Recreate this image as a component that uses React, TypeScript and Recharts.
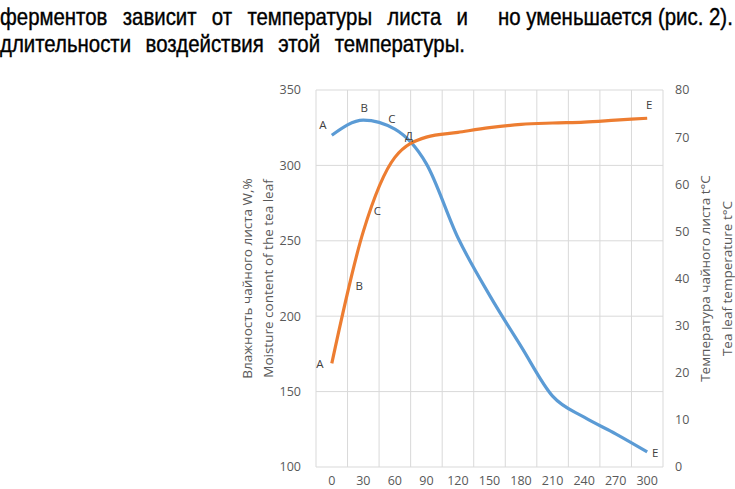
import React from 'react'
import { LineChart, Line, XAxis, YAxis, CartesianGrid, LabelList } from 'recharts'

const minutes = [0, 30, 60, 90, 120, 150, 180, 210, 240, 270, 300]
const moisture = [320, 330, 324, 301, 252, 214, 180, 147, 133, 122, 110]
const temperature = [22, 50, 65.7, 70, 71, 72, 72.7, 73, 73.2, 73.6, 74]

const moistureTicks = [100, 150, 200, 250, 300, 350]
const temperatureTicks = [0, 10, 20, 30, 40, 50, 60, 70, 80]

// point letters on each curve (index of the point they sit next to)
const moistureTags = [
  { index: 0, text: 'А' },
  { index: 1, text: 'В' },
  { index: 2, text: 'С' },
  { index: 2, text: 'Д' },
  { index: 10, text: 'Е' },
]
const temperatureTags = [
  { index: 0, text: 'А' },
  { index: 1, text: 'В' },
  { index: 1, text: 'С' },
  { index: 10, text: 'Е' },
]

// label nudges, px
const moistureNudge = [[-9, -11], [1, -13], [-3, -11], [14, 6], [8, 1]]
const temperatureNudge = [[-12, 0], [-4, 54], [14, -21], [2, -14]]

const data = minutes.map((m, i) => ({
  t: m,
  moisture: moisture[i],
  temperature: temperature[i],
}))

const GREY = '#595959'
const FONT = '"Open Sans", "Noto Sans", sans-serif'

function tagRenderer(tags: { index: number; text: string }[], nudge: number[][]) {
  return (p: any) => {
    const hits = tags.map((tg, k) => ({ ...tg, k })).filter(tg => tg.index === p.index)
    if (!hits.length) return null
    return (
      <g>
        {hits.map(h => (
          <text
            key={h.k}
            x={p.x + nudge[h.k][0]}
            y={p.y + nudge[h.k][1]}
            textAnchor="middle"
            dominantBaseline="central"
            fontSize={11.5}
            fontFamily={FONT}
            fill="#404040"
          >
            {h.text}
          </text>
        ))}
      </g>
    )
  }
}

function AxisTitle({ viewBox, lines, xs }: any) {
  const cy = viewBox.y + viewBox.height / 2
  return (
    <g>
      {lines.map((l: string, i: number) => (
        <text
          key={i}
          x={viewBox.x + xs[i]}
          y={cy}
          transform={`rotate(-90 ${viewBox.x + xs[i]} ${cy})`}
          textAnchor="middle"
          dominantBaseline="central"
          fontSize={13.5}
          fontFamily={FONT}
          fill={GREY}
        >
          {l}
        </text>
      ))}
    </g>
  )
}

const SQUEEZE = 0.85

function TextLine({ text, left, top, width }: { text: string; left: number; top: number; width?: number }) {
  return (
    <div
      style={{
        position: 'absolute',
        left,
        top,
        width: width ? width / SQUEEZE : undefined,
        fontFamily: '"Liberation Sans", Arial, sans-serif',
        fontSize: 24,
        lineHeight: '27px',
        color: '#000',
        WebkitTextStroke: '0.4px #000',
        whiteSpace: 'nowrap',
        transform: `scaleX(${SQUEEZE})`,
        transformOrigin: 'left top',
        textAlign: width ? 'justify' : 'left',
        textAlignLast: width ? 'justify' : 'auto',
      }}
    >
      {text}
    </div>
  )
}

export default function App() {
  return (
    <div style={{ position: 'absolute', left: 0, top: 0, width: 735, height: 489, background: '#fff', overflow: 'hidden' }}>
      <TextLine text="ферментов зависит от температуры листа и" left={0} top={3} width={468} />
      <TextLine text="но уменьшается (рис. 2)." left={498} top={3} />
      <TextLine text="длительности воздействия этой температуры." left={0} top={30} width={465} />

      <div style={{ position: 'absolute', left: 0, top: 0 }}>
        <LineChart width={735} height={489} data={data} margin={{ top: 90, right: 0, bottom: 0, left: 0 }}>
          <CartesianGrid
            stroke="#d9d9d9"
            strokeWidth={1}
            verticalCoordinatesGenerator={({ offset }: any) =>
              Array.from({ length: minutes.length + 1 }, (_, i) => offset.left + (i * offset.width) / minutes.length)
            }
          />
          <XAxis
            dataKey="t"
            type="category"
            height={22}
            padding={{ left: 15.8, right: 15.8 }}
            axisLine={false}
            tickLine={false}
            tickSize={0}
            tickMargin={9}
            interval={0}
            tick={{ fill: GREY, fontSize: 12.5, fontFamily: FONT }}
          />
          <YAxis
            width={316}
            domain={[100, 350]}
            ticks={moistureTicks}
            axisLine={false}
            tickLine={false}
            tickSize={0}
            tickMargin={15}
            tick={{ fill: GREY, fontSize: 12.5, fontFamily: FONT }}
            label={{
              content: (p: any) => (
                <AxisTitle
                  viewBox={p.viewBox}
                  lines={['Влажность чайного листа W,%', 'Moisture content of the tea leaf']}
                  xs={[247, 268]}
                />
              ),
            }}
          />
          <YAxis
            yAxisId="temp"
            orientation="right"
            width={72}
            domain={[0, 80]}
            ticks={temperatureTicks}
            axisLine={false}
            tickLine={false}
            tickSize={0}
            tickMargin={12}
            tick={{ fill: GREY, fontSize: 12.5, fontFamily: FONT }}
            label={{
              content: (p: any) => (
                <AxisTitle
                  viewBox={p.viewBox}
                  lines={['Температура чайного листа t°C', 'Tea leaf temperature t°C']}
                  xs={[42, 64]}
                />
              ),
            }}
          />
          <Line
            type="monotone"
            dataKey="moisture"
            stroke="#5b9bd5"
            strokeWidth={3.2}
            dot={false}
            activeDot={false}
            isAnimationActive={false}
          >
            <LabelList dataKey="moisture" content={tagRenderer(moistureTags, moistureNudge)} />
          </Line>
          <Line
            yAxisId="temp"
            type="monotone"
            dataKey="temperature"
            stroke="#ed7d31"
            strokeWidth={3.2}
            dot={false}
            activeDot={false}
            isAnimationActive={false}
          >
            <LabelList dataKey="temperature" content={tagRenderer(temperatureTags, temperatureNudge)} />
          </Line>
        </LineChart>
      </div>
    </div>
  )
}
